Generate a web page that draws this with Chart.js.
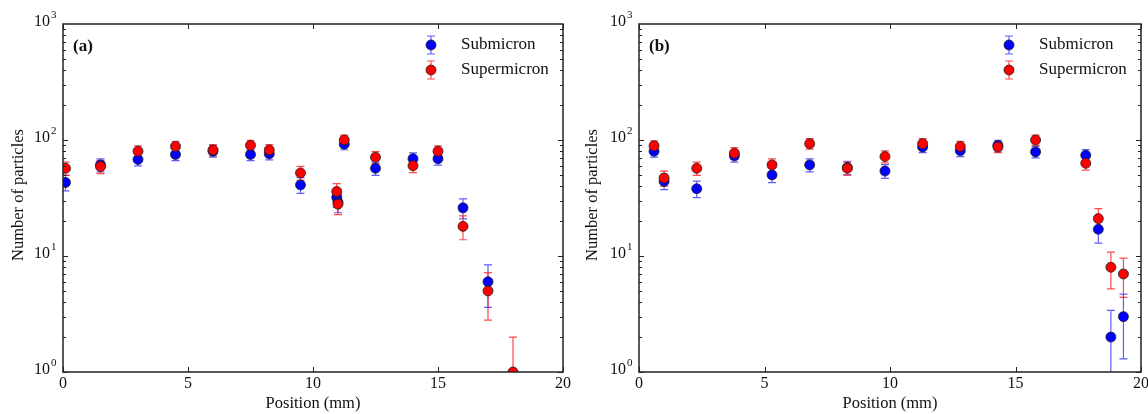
<!DOCTYPE html>
<html>
<head>
<meta charset="utf-8">
<script src="https://cdn.jsdelivr.net/npm/chart.js@4"></script>
<style>
  html, body { margin: 0; padding: 0; background: #fff; }
  #wrap { width: 1148px; height: 414px; display: flex; }
  canvas { display: block; }
</style>
</head>
<body>
<div id="wrap">
  <canvas id="chartA" width="574" height="414"></canvas>
  <canvas id="chartB" width="574" height="414"></canvas>
</div>
<script>
// Panel (a)
const posA = [0.1, 1.5, 3, 4.5, 6, 7.5, 8.25, 9.5, 10.95, 11.0, 11.25, 12.5, 14, 15, 16, 17, 18];
const subA = [43, 61, 68, 75, 80, 75, 76, 41, 32, 29, 92, 57, 69, 69, 26, 6, null];
const subErrA = [6.6, 7.8, 8.2, 8.7, 8.9, 8.7, 8.7, 6.4, 5.7, 5.4, 9.6, 7.5, 8.3, 8.3, 5.1, 2.4, null];
const supA = [57, 59, 80, 88, 82, 90, 82, 52, 36, 28, 100, 71, 60, 80, 18, 5, 1];
const supErrA = [7.5, 7.7, 8.9, 9.4, 9.1, 9.5, 9.1, 7.2, 6.0, 5.3, 10, 8.4, 7.7, 8.9, 4.2, 2.2, 1.0];

// Panel (b)
const posB = [0.6, 1.0, 2.3, 3.8, 5.3, 6.8, 8.3, 9.8, 11.3, 12.8, 14.3, 15.8, 17.8, 18.3, 18.8, 19.3];
const subB = [80, 44, 38, 73, 50, 61, 58, 54, 87, 81, 90, 79, 74, 17, 2, 3];
const subErrB = [8.9, 6.6, 6.2, 8.5, 7.1, 7.8, 7.6, 7.3, 9.3, 9.0, 9.5, 8.9, 8.6, 4.1, 1.4, 1.7];
const supB = [89, 47, 57, 77, 61, 93, 57, 72, 93, 88, 87, 100, 63, 21, 8, 7];
const supErrB = [9.4, 6.9, 7.5, 8.8, 7.8, 9.6, 7.5, 8.5, 9.6, 9.4, 9.3, 10, 7.9, 4.6, 2.8, 2.6];

const xTicks = [0, 5, 10, 15, 20];
const yTicks = [1, 10, 100, 1000];
const yTickExp = ['0', '1', '2', '3'];
const seriesNames = ['Submicron', 'Supermicron'];

const SERIF = '"Liberation Serif", "DejaVu Serif", serif';

function toPoints(xs, ys) {
    return xs.map((x, i) => ({ x: x, y: ys[i] })).filter(p => p.y != null);
}
function errsFor(ys, errs) {
    return errs.filter((e, i) => ys[i] != null);
}

// draws error bars, frame, inward ticks, labels and legend (matplotlib classic look)
const panelPlugin = {
    id: 'panel',
    beforeDatasetsDraw(chart) {
        const ctx = chart.ctx, a = chart.chartArea;
        const xs = chart.scales.x, ys = chart.scales.y;
        ctx.save();
        ctx.beginPath();
        ctx.rect(a.left, a.top, a.right - a.left, a.bottom - a.top);
        ctx.clip();
        ctx.lineWidth = 1.2;
        chart.data.datasets.forEach(ds => {
            ctx.strokeStyle = ds.errColor;
            ds.data.forEach((p, j) => {
                const e = ds.errors[j];
                const px = xs.getPixelForValue(p.x);
                const top = ys.getPixelForValue(p.y + e);
                const lo = p.y - e;
                const bot = lo > 0 ? ys.getPixelForValue(lo) : a.bottom + 20;
                ctx.beginPath();
                ctx.moveTo(px, top); ctx.lineTo(px, bot);
                ctx.moveTo(px - 4, top); ctx.lineTo(px + 4, top);
                ctx.moveTo(px - 4, bot); ctx.lineTo(px + 4, bot);
                ctx.stroke();
            });
        });
        ctx.restore();
    },
    afterDraw(chart, args, opts) {
        const ctx = chart.ctx, a = chart.chartArea;
        const xs = chart.scales.x, ys = chart.scales.y;
        ctx.save();
        ctx.strokeStyle = '#222';
        ctx.lineWidth = 1;
        // ticks
        ctx.beginPath();
        xTicks.forEach(v => {
            const px = Math.round(xs.getPixelForValue(v)) + 0.5;
            ctx.moveTo(px, a.bottom); ctx.lineTo(px, a.bottom - 5);
            ctx.moveTo(px, a.top); ctx.lineTo(px, a.top + 5);
        });
        for (let d = 1; d < 1000; d *= 10) {
            for (let m = 1; m < 10; m++) {
                const v = d * m;
                const py = Math.round(ys.getPixelForValue(v)) + 0.5;
                const len = m === 1 ? 5 : 3;
                ctx.moveTo(a.left, py); ctx.lineTo(a.left + len, py);
                ctx.moveTo(a.right, py); ctx.lineTo(a.right - len, py);
            }
        }
        ctx.stroke();
        // frame
        ctx.lineWidth = 1.5;
        ctx.strokeRect(a.left, a.top, a.right - a.left, a.bottom - a.top);

        // x tick labels
        ctx.fillStyle = '#111';
        ctx.font = '16px ' + SERIF;
        ctx.textAlign = 'center';
        ctx.textBaseline = 'top';
        xTicks.forEach(v => ctx.fillText(String(v), xs.getPixelForValue(v), a.bottom + 4));
        // y tick labels with superscripts
        yTicks.forEach((v, i) => {
            const py = ys.getPixelForValue(v);
            ctx.font = '16px ' + SERIF;
            ctx.textAlign = 'right';
            ctx.textBaseline = 'middle';
            ctx.fillText('10', a.left - 13, py - 2);
            ctx.font = '11px ' + SERIF;
            ctx.textAlign = 'left';
            ctx.fillText(yTickExp[i], a.left - 12, py - 9);
        });
        // axis titles
        ctx.font = '16.5px ' + SERIF;
        ctx.textAlign = 'center';
        ctx.textBaseline = 'middle';
        ctx.fillText('Position (mm)', (a.left + a.right) / 2, 404);
        ctx.save();
        ctx.translate(19, 195);
        ctx.rotate(-Math.PI / 2);
        ctx.fillText('Number of particles', 0, 0);
        ctx.restore();
        // panel label
        ctx.font = 'bold 17px ' + SERIF;
        ctx.textAlign = 'left';
        ctx.fillText(opts.label, a.left + 10, a.top + 23);

        // legend
        const lx = a.right - 132;
        chart.data.datasets.forEach((ds, i) => {
            const ly = a.top + 21 + i * 25;
            ctx.strokeStyle = ds.errColor;
            ctx.lineWidth = 1.2;
            ctx.beginPath();
            ctx.moveTo(lx, ly - 9); ctx.lineTo(lx, ly + 9);
            ctx.moveTo(lx - 4, ly - 9); ctx.lineTo(lx + 4, ly - 9);
            ctx.moveTo(lx - 4, ly + 9); ctx.lineTo(lx + 4, ly + 9);
            ctx.stroke();
            ctx.beginPath();
            ctx.arc(lx, ly, 5, 0, Math.PI * 2);
            ctx.fillStyle = ds.pointBackgroundColor;
            ctx.fill();
            ctx.strokeStyle = '#222';
            ctx.lineWidth = 0.8;
            ctx.stroke();
            ctx.fillStyle = '#111';
            ctx.font = '17px ' + SERIF;
            ctx.textAlign = 'left';
            ctx.textBaseline = 'middle';
            ctx.fillText(ds.label, lx + 30, ly);
        });
        ctx.restore();
    }
};

function makeChart(id, label, pos, sub, subErr, sup, supErr, padLeft, padRight) {
    return new Chart(document.getElementById(id), {
        type: 'scatter',
        data: {
            datasets: [{
                label: seriesNames[0],
                data: toPoints(pos, sub),
                errors: errsFor(sub, subErr),
                errColor: 'rgba(40, 40, 255, 0.75)',
                pointBackgroundColor: '#0000ff',
                pointBorderColor: '#222',
                pointBorderWidth: 0.8,
                pointRadius: 5,
                order: 1
            }, {
                label: seriesNames[1],
                data: toPoints(pos, sup),
                errors: errsFor(sup, supErr),
                errColor: 'rgba(255, 30, 30, 0.8)',
                pointBackgroundColor: '#ff0000',
                pointBorderColor: '#222',
                pointBorderWidth: 0.8,
                pointRadius: 5,
                order: 0
            }]
        },
        options: {
            responsive: false,
            animation: false,
            devicePixelRatio: 1,
            layout: { padding: { left: padLeft, right: padRight, top: 24, bottom: 42 } },
            scales: {
                x: { type: 'linear', min: 0, max: 20, display: false },
                y: { type: 'logarithmic', min: 1, max: 1000, display: false }
            },
            plugins: {
                legend: { display: false },
                tooltip: { enabled: false },
                panel: { label: label }
            }
        },
        plugins: [panelPlugin]
    });
}

makeChart('chartA', '(a)', posA, subA, subErrA, supA, supErrA, 63, 11);
makeChart('chartB', '(b)', posB, subB, subErrB, supB, supErrB, 65, 7);
</script>
</body>
</html>
